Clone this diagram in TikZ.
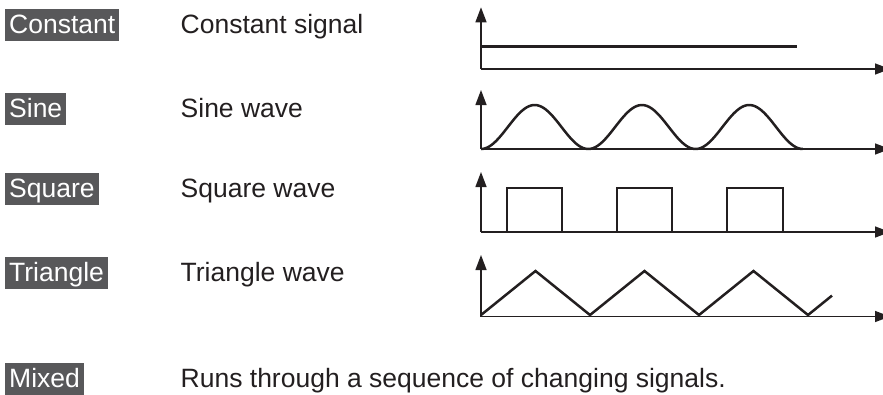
\documentclass[tikz,border=0pt]{standalone}
\usepackage{fontspec}
\setmainfont{Liberation Sans}
\usetikzlibrary{arrows.meta}
\definecolor{ink}{HTML}{231F20}
\definecolor{lab}{HTML}{58585A}
\begin{document}
\begin{tikzpicture}[x=1pt,y=-1pt,
  big/.style={font=\fontsize{26.5}{30}\selectfont},
  lbl/.style={big,fill=lab,text=white,anchor=base west,inner xsep=4pt,inner ysep=2.5pt,text height=22pt,text depth=5pt},
  desc/.style={big,text=ink,anchor=base west,inner sep=0pt},
  axis/.style={draw=ink,line width=1.4pt,-{Triangle[length=15pt,width=11pt]}},
  sig/.style={draw=ink,line width=2.5pt,line join=miter}]
\clip (0,0) rectangle (883,394);
\useasboundingbox (0,0) rectangle (883,394);
% labels
\node[lbl] (lconst) at (5,33.8) {Constant};
\node[desc] (dconst) at (180.5,33.8) {Constant signal};
\node[lbl] (lsine) at (5,117.8) {Sine};
\node[desc] (dsine) at (180.5,117.8) {Sine wave};
\node[lbl] (lsq) at (5,197.8) {Square};
\node[desc] (dsq) at (180.5,197.8) {Square wave};
\node[lbl] (ltri) at (5,281) {Triangle};
\node[desc] (dtri) at (180.5,281) {Triangle wave};
\node[lbl] (lmix) at (5,387) {Mixed};
\node[desc] (dmix) at (180.5,387) {Runs through a sequence of changing signals.};
% graph 1: constant
\coordinate (o1) at (481,69);
\coordinate (y1) at (481,7.3);
\coordinate (x1) at (890,69);
\draw[axis] (o1) -- (y1);
\draw[axis] (o1) -- (x1);
\coordinate (c1a) at (481,46.7);
\coordinate (c1b) at (797,46.7);
\draw[sig,line cap=butt] (c1a) -- (c1b);
% graph 2: sine
\coordinate (o2) at (481,149);
\coordinate (y2) at (481,90);
\coordinate (x2) at (890,149);
\draw[axis] (o2) -- (y2);
\draw[axis] (o2) -- (x2);
\draw[sig] plot[domain=0:3,samples=150,smooth] ({481+107.3*\x},{149-22*(1-cos(360*\x))});
% graph 3: square
\coordinate (o3) at (481,232);
\coordinate (y3) at (481,172);
\coordinate (x3) at (890,232);
\draw[axis] (o3) -- (y3);
\draw[axis] (o3) -- (x3);
\draw[sig] (o3) -- (507,232) -- (507,188) -- (562,188) -- (562,232) -- (617,232) -- (617,188) -- (672,188) -- (672,232) -- (727,232) -- (727,188) -- (783,188) -- (783,232) -- (807,232);
% graph 4: triangle
\coordinate (o4) at (481,316.5);
\coordinate (y4) at (481,255);
\coordinate (x4) at (890,316.5);
\draw[axis] (o4) -- (y4);
\draw[axis] (o4) -- (x4);
\draw[sig] (481,315) -- (535.5,271) -- (590,315) -- (644.5,271) -- (699,315) -- (753.5,271) -- (808,315) -- (832,295.6);
\end{tikzpicture}
\end{document}
